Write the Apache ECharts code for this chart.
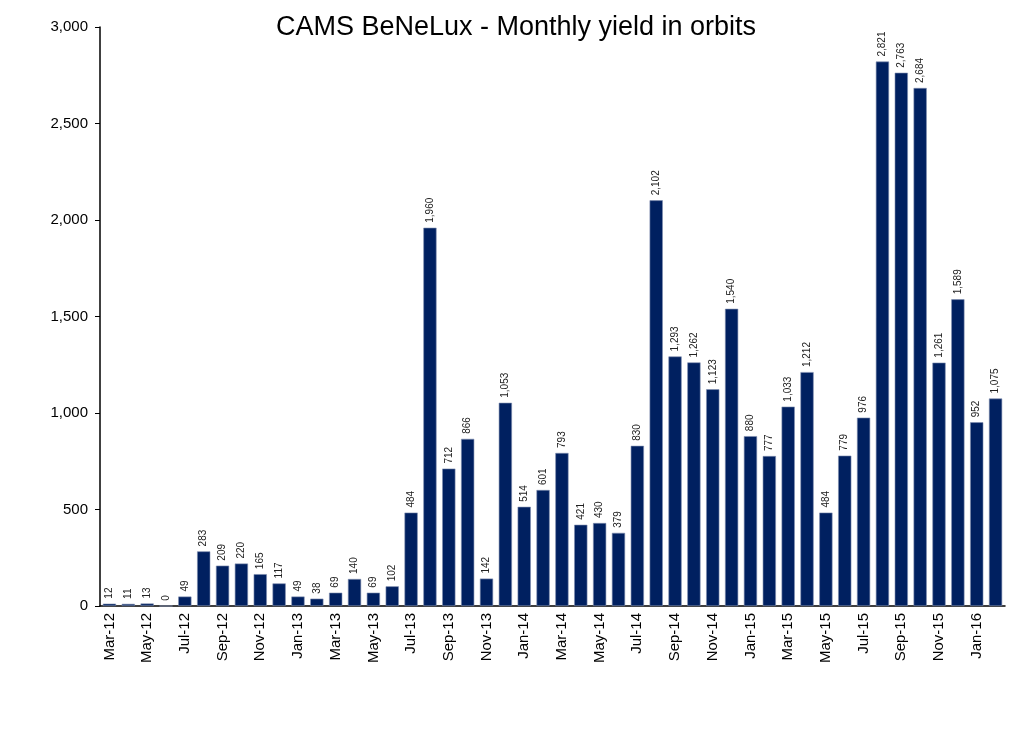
<!DOCTYPE html>
<html>
<head>
<meta charset="utf-8">
<script src="https://cdn.jsdelivr.net/npm/echarts@6/dist/echarts.min.js"></script>
<style>html,body{margin:0;padding:0;background:#fff}#c{width:1024px;height:734px}</style>
</head>
<body>
<div id="c"></div>
<script>
const categories = ["Mar-12","Apr-12","May-12","Jun-12","Jul-12","Aug-12","Sep-12","Oct-12","Nov-12","Dec-12","Jan-13","Feb-13","Mar-13","Apr-13","May-13","Jun-13","Jul-13","Aug-13","Sep-13","Oct-13","Nov-13","Dec-13","Jan-14","Feb-14","Mar-14","Apr-14","May-14","Jun-14","Jul-14","Aug-14","Sep-14","Oct-14","Nov-14","Dec-14","Jan-15","Feb-15","Mar-15","Apr-15","May-15","Jun-15","Jul-15","Aug-15","Sep-15","Oct-15","Nov-15","Dec-15","Jan-16","Feb-16"];
const orbits = [12,11,13,0,49,283,209,220,165,117,49,38,69,140,69,102,484,1960,712,866,142,1053,514,601,793,421,430,379,830,2102,1293,1262,1123,1540,880,777,1033,1212,484,779,976,2821,2763,2684,1261,1589,952,1075];
const yTicks = {min:0, max:3000, interval:500};

const fmt = v => Number(v).toLocaleString('en-US');
const chart = echarts.init(document.getElementById('c'));
chart.setOption({
  animation:false,
  title:{text:'CAMS BeNeLux - Monthly yield in orbits', left:511, textAlign:'center', top:9,
    textStyle:{fontFamily:'Liberation Sans', fontSize:27, fontWeight:'normal', color:'#000'}},
  grid:{left:100, right:19, top:27, bottom:128},
  xAxis:{type:'category', data:categories,
    axisLine:{lineStyle:{color:'#000', width:1.5}},
    axisTick:{interval:1, length:5, lineStyle:{color:'#000'}},
    axisLabel:{interval:1, rotate:90, fontFamily:'Liberation Sans', fontSize:15, color:'#000', margin:7}},
  yAxis:{type:'value', min:yTicks.min, max:yTicks.max, interval:yTicks.interval,
    splitLine:{show:false},
    axisLine:{show:true, lineStyle:{color:'#000', width:1.5}},
    axisTick:{show:true, length:5, lineStyle:{color:'#000'}},
    axisLabel:{formatter:fmt, fontFamily:'Liberation Sans', fontSize:15, color:'#000', margin:12}},
  series:[{type:'bar', data:orbits, barCategoryGap:'30%',
    itemStyle:{color:'#002060', borderColor:'#7f8fb0', borderWidth:0.6},
    label:{show:true, position:'top', rotate:90, align:'left', verticalAlign:'middle', distance:5,
      formatter:p=>fmt(p.value), fontFamily:'Liberation Sans', fontSize:10, color:'#222'}}]
});
</script>
</body>
</html>
